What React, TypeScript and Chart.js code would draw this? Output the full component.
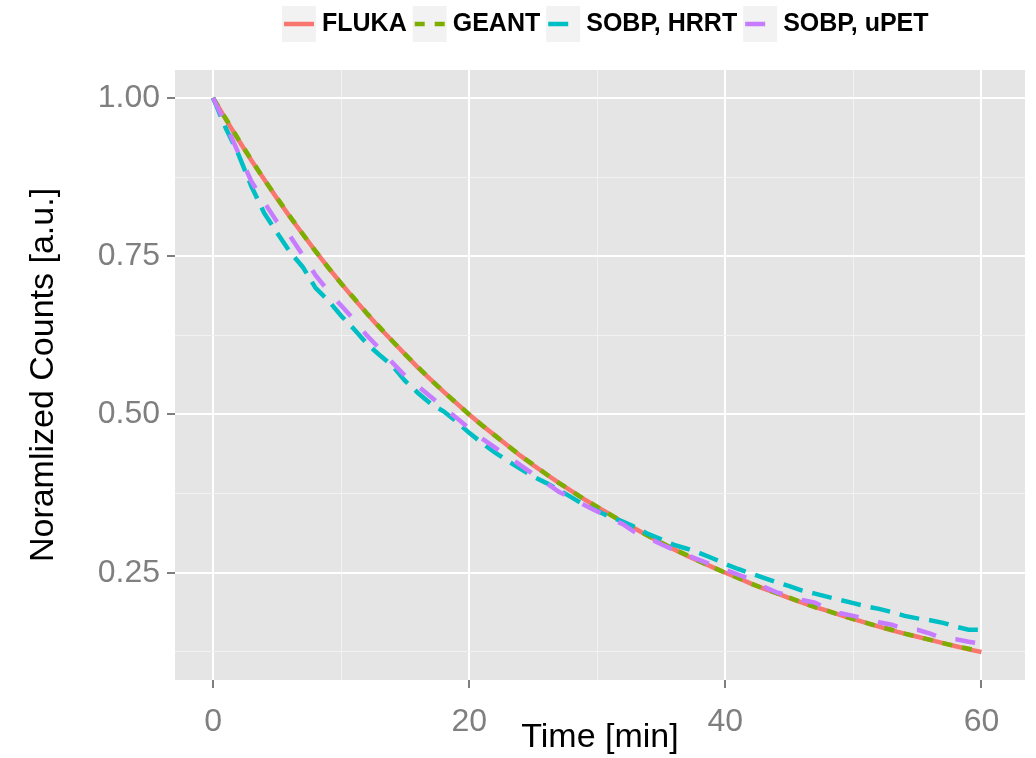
import React, { useEffect, useRef } from "react";
import { Chart, registerables } from "chart.js";

Chart.register(...registerables);

// ---- data ----
const minutes = [
  0, 1, 2, 3, 4, 5, 6, 7, 8, 9, 10, 11, 12, 13, 14, 15, 16, 17, 18, 19, 20,
  21, 22, 23, 24, 25, 26, 27, 28, 29, 30, 31, 32, 33, 34, 35, 36, 37, 38, 39, 40,
  41, 42, 43, 44, 45, 46, 47, 48, 49, 50, 51, 52, 53, 54, 55, 56, 57, 58, 59, 60,
];

const fluka = [
  1.0, 0.966, 0.933, 0.901, 0.871, 0.841, 0.812, 0.785, 0.758, 0.732, 0.707,
  0.683, 0.66, 0.637, 0.616, 0.595, 0.574, 0.555, 0.536, 0.518, 0.5,
  0.483, 0.467, 0.451, 0.435, 0.42, 0.406, 0.392, 0.379, 0.366, 0.354,
  0.342, 0.33, 0.319, 0.308, 0.297, 0.287, 0.277, 0.268, 0.259, 0.25,
  0.242, 0.233, 0.225, 0.218, 0.21, 0.203, 0.196, 0.19, 0.183, 0.177,
  0.171, 0.165, 0.159, 0.154, 0.149, 0.144, 0.139, 0.134, 0.129, 0.125,
];

const geant = [
  1.0, 0.967, 0.934, 0.902, 0.871, 0.842, 0.813, 0.785, 0.758, 0.732, 0.707,
  0.684, 0.66, 0.638, 0.616, 0.595, 0.575, 0.555, 0.536, 0.518, 0.5,
  0.483, 0.467, 0.451, 0.435, 0.421, 0.406, 0.392, 0.379, 0.366, 0.354,
  0.342, 0.33, 0.319, 0.308, 0.298, 0.287, 0.278, 0.268, 0.259, 0.25,
  0.242, 0.233, 0.225, 0.218, 0.211, 0.203, 0.196, 0.19, 0.183, 0.177,
  0.171, 0.165, 0.16, 0.154, 0.149, 0.144, 0.139, 0.134, 0.13, 0.125,
];

const hrrt = [
  1.0, 0.952, 0.91, 0.86, 0.818, 0.787, 0.757, 0.733, 0.7, 0.68, 0.656,
  0.635, 0.612, 0.594, 0.577, 0.553, 0.534, 0.517, 0.505, 0.489, 0.471,
  0.455, 0.44, 0.427, 0.414, 0.402, 0.392, 0.381, 0.369, 0.357, 0.348,
  0.338, 0.331, 0.322, 0.311, 0.303, 0.294, 0.288, 0.281, 0.273, 0.264,
  0.256, 0.249, 0.242, 0.235, 0.229, 0.222, 0.217, 0.212, 0.207, 0.202,
  0.197, 0.193, 0.188, 0.182, 0.178, 0.175, 0.171, 0.165, 0.16, 0.16,
];

const upet = [
  1.0, 0.958, 0.912, 0.868, 0.835, 0.804, 0.782, 0.752, 0.72, 0.695, 0.672,
  0.65, 0.625, 0.604, 0.582, 0.561, 0.545, 0.528, 0.511, 0.495, 0.478,
  0.462, 0.448, 0.434, 0.42, 0.406, 0.392, 0.378, 0.368, 0.357, 0.347,
  0.335, 0.327, 0.313, 0.305, 0.295, 0.286, 0.278, 0.27, 0.262, 0.255,
  0.247, 0.24, 0.228, 0.219, 0.214, 0.207, 0.203, 0.192, 0.186, 0.182,
  0.177, 0.172, 0.168, 0.161, 0.16, 0.154, 0.146, 0.145, 0.141, 0.138,
];

const seriesNames = ["FLUKA", "GEANT", "SOBP, HRRT", "SOBP, uPET"];
const seriesColors = ["#F8766D", "#7CAE00", "#00BFC4", "#C77CFF"];
const seriesDashes = [[], [10, 10], [20, 10], [20, 20]];
const seriesValues = [fluka, geant, hrrt, upet];

const xTicks = [0, 10, 20, 30, 40, 50, 60];
const xMajorLabels = ["0", "20", "40", "60"];
const yTicks = [0.125, 0.25, 0.375, 0.5, 0.625, 0.75, 0.875, 1.0];
const yMajorLabels = ["0.25", "0.50", "0.75", "1.00"];

const xTitle = "Time [min]";
const yTitle = "Noramlized Counts [a.u.]";

const FONT = "'Liberation Sans', Arial, Helvetica, sans-serif";
const LINE_W = 4.5;

const isXMajor = (v: number) => xMajorLabels.includes(String(v));
const isYMajor = (v: number) => yMajorLabels.includes(v.toFixed(2));

const panelBg = {
  id: "panelBg",
  beforeDraw(chart: any) {
    const { ctx, chartArea } = chart;
    ctx.save();
    ctx.fillStyle = "#E5E5E5";
    ctx.fillRect(chartArea.left, chartArea.top, chartArea.width, chartArea.height);
    ctx.restore();
  },
};

const ggLegend = {
  id: "ggLegend",
  afterDraw(chart: any) {
    const ctx = chart.ctx;
    ctx.save();
    ctx.font = `bold 25px ${FONT}`;
    ctx.textBaseline = "middle";
    ctx.textAlign = "left";
    let x = 282;
    const boxW = 34;
    const boxTop = 6;
    const boxH = 36;
    const cy = boxTop + boxH / 2;
    chart.data.datasets.forEach((ds: any) => {
      ctx.fillStyle = "#F2F2F2";
      ctx.fillRect(x, boxTop, boxW, boxH);
      ctx.strokeStyle = ds.borderColor;
      ctx.lineWidth = LINE_W;
      ctx.setLineDash(ds.borderDash || []);
      ctx.beginPath();
      ctx.moveTo(x + 2, cy);
      ctx.lineTo(x + boxW - 2, cy);
      ctx.stroke();
      ctx.setLineDash([]);
      ctx.fillStyle = "#000000";
      const tx = x + boxW + 6;
      ctx.fillText(ds.label, tx, cy);
      x = tx + ctx.measureText(ds.label).width + 6;
    });
    ctx.restore();
  },
};

export default function App() {
  const canvasRef = useRef<HTMLCanvasElement | null>(null);

  useEffect(() => {
    if (!canvasRef.current) return;
    const datasets = seriesNames.map((name, i) => ({
      label: name,
      data: minutes.map((t, j) => ({ x: t, y: seriesValues[i][j] })),
      borderColor: seriesColors[i],
      backgroundColor: seriesColors[i],
      borderDash: seriesDashes[i],
      borderWidth: LINE_W,
      pointRadius: 0,
      fill: false,
      tension: 0,
      order: seriesNames.length - i,
    }));

    const chart = new Chart(canvasRef.current, {
      type: "line",
      data: { datasets },
      plugins: [panelBg, ggLegend],
      options: {
        animation: false,
        responsive: false,
        layout: { padding: { top: 70, right: 11, left: 0, bottom: 0 } },
        plugins: {
          legend: { display: false },
          tooltip: { enabled: false },
        },
        scales: {
          x: {
            type: "linear",
            min: -2.97,
            max: 63.4,
            afterBuildTicks: (scale: any) => {
              scale.ticks = xTicks.map((v) => ({ value: v }));
            },
            afterFit: (scale: any) => {
              scale.height = 78;
            },
            border: { display: false },
            grid: {
              color: (c: any) => (c.tick && isXMajor(c.tick.value) ? "#FFFFFF" : "#F2F2F2"),
              lineWidth: (c: any) => (c.tick && isXMajor(c.tick.value) ? 2 : 1),
              tickColor: (c: any) => (c.tick && isXMajor(c.tick.value) ? "#7F7F7F" : "rgba(0,0,0,0)"),
              tickLength: 8,
              tickWidth: 2,
            },
            ticks: {
              autoSkip: false,
              maxRotation: 0,
              padding: 15,
              color: "#7F7F7F",
              font: { family: FONT, size: 32 },
              callback: (v: any) => (isXMajor(Number(v)) ? String(v) : ""),
            },
            title: {
              display: true,
              text: xTitle,
              color: "#000000",
              font: { family: FONT, size: 34 },
              padding: { top: 0, bottom: 0 },
            },
          },
          y: {
            type: "linear",
            min: 0.0807,
            max: 1.044,
            afterBuildTicks: (scale: any) => {
              scale.ticks = yTicks.map((v) => ({ value: v }));
            },
            afterFit: (scale: any) => {
              scale.width = 175;
            },
            border: { display: false },
            grid: {
              color: (c: any) => (c.tick && isYMajor(c.tick.value) ? "#FFFFFF" : "#F2F2F2"),
              lineWidth: (c: any) => (c.tick && isYMajor(c.tick.value) ? 2 : 1),
              tickColor: (c: any) => (c.tick && isYMajor(c.tick.value) ? "#7F7F7F" : "rgba(0,0,0,0)"),
              tickLength: 8,
              tickWidth: 2,
            },
            ticks: {
              autoSkip: false,
              padding: 7,
              color: "#7F7F7F",
              font: { family: FONT, size: 32 },
              callback: (v: any) => (isYMajor(Number(v)) ? Number(v).toFixed(2) : ""),
            },
            title: {
              display: true,
              text: yTitle,
              color: "#000000",
              font: { family: FONT, size: 34 },
              padding: { top: 23, bottom: 0 },
            },
          },
        },
      },
    });
    return () => chart.destroy();
  }, []);

  return (
    <div
      style={{
        position: "fixed",
        left: 0,
        top: 0,
        width: 1036,
        height: 758,
        background: "#FFFFFF",
      }}
    >
      <canvas ref={canvasRef} width={1036} height={758} style={{ display: "block" }} />
    </div>
  );
}
